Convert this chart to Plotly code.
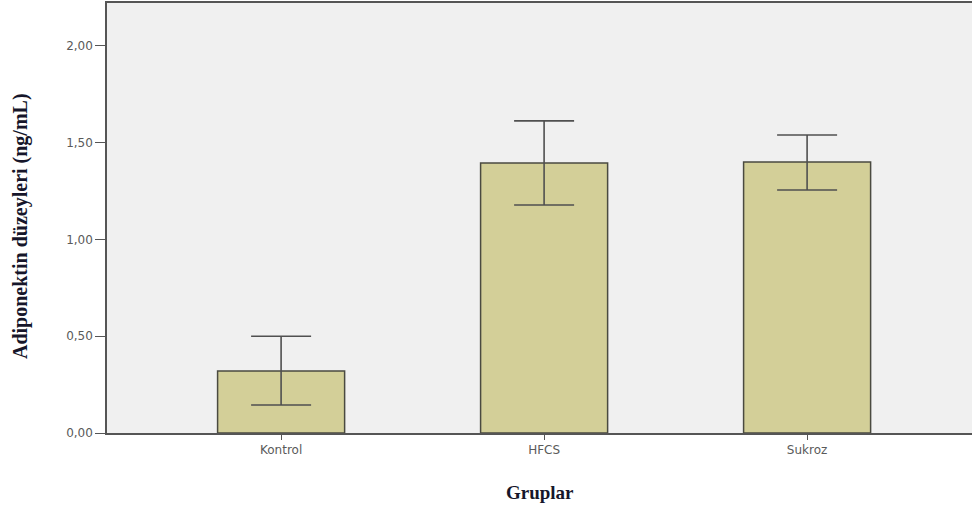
import plotly.graph_objects as go

categories = ["Kontrol", "HFCS", "Sukroz"]
means = [0.32, 1.395, 1.40]
err_plus = [0.18, 0.217, 0.139]
err_minus = [0.175, 0.217, 0.145]
y_ticks = [0, 0.5, 1.0, 1.5, 2.0]

axis_col = "#555555"
tick_font = dict(family="DejaVu Sans, Arial", size=12, color="#5a5a5a")
title_font_col = "#16162a"

fig = go.Figure(go.Bar(
    x=categories, y=means,
    width=0.483,
    marker=dict(color="#d3cf98", line=dict(color="#4a4a40", width=1.5)),
    error_y=dict(type="data", array=err_plus, arrayminus=err_minus,
                 color="#505050", thickness=1.6, width=30),
))

L, T, B_PIX = 107, 3, 433
fig.update_layout(
    width=972, height=509,
    margin=dict(l=L, r=0, t=T, b=509 - B_PIX),
    paper_bgcolor="white", plot_bgcolor="#f0f0f0",
    separators=", ",
    showlegend=False,
    xaxis=dict(range=[-0.662, 2.627], showline=True, linecolor=axis_col, linewidth=1.5,
               mirror=True, ticks="outside", ticklen=5, tickcolor=axis_col,
               tickfont=tick_font, showgrid=False, zeroline=False),
    yaxis=dict(range=[0, 2.221], tickvals=y_ticks, tickformat=".2f",
               showline=True, linecolor=axis_col, linewidth=1.5,
               ticks="outside", ticklen=10, tickcolor=axis_col,
               tickfont=tick_font, showgrid=False, zeroline=False),
    annotations=[
        dict(text="<b>Adiponektin düzeyleri (ng/mL)</b>", textangle=-90,
             x=(21 - L) / (972 - L), xref="paper", xanchor="center",
             y=(B_PIX - 226) / (B_PIX - T), yref="paper", yanchor="middle", showarrow=False,
             font=dict(family="Liberation Serif, Times New Roman", size=20, color=title_font_col)),
        dict(text="<b>Gruplar</b>",
             x=(540 - L) / (972 - L), xref="paper", xanchor="center",
             y=(B_PIX - 492) / (B_PIX - T), yref="paper", yanchor="middle", showarrow=False,
             font=dict(family="Liberation Serif, Times New Roman", size=19, color=title_font_col)),
    ],
)

fig.write_html("out.html", config={"displayModeBar": False},
               post_script="document.body.style.margin='0';")
